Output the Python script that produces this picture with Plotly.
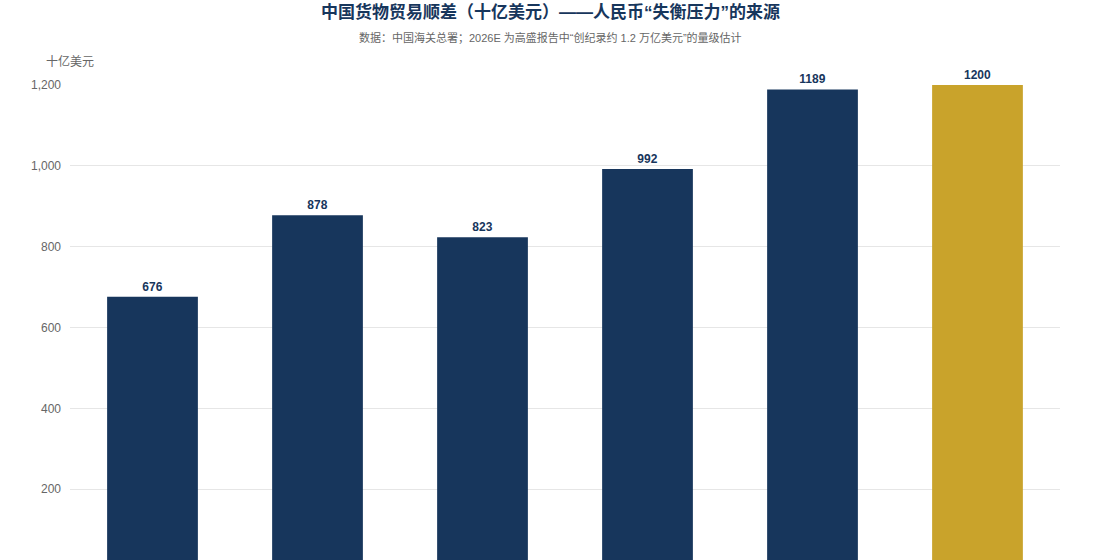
import plotly.graph_objects as go

# 中国货物贸易顺差, 十亿美元
years = ["2021", "2022", "2023", "2024", "2025", "2026E"]
surplus = [676, 878, 823, 992, 1189, 1200]
bar_colors = ["#17365c"] * 5 + ["#c9a32b"]

navy = "#17365c"
grey = "#666666"
font_family = "Liberation Sans, Arial, Noto Sans CJK SC, sans-serif"

fig = go.Figure()
fig.add_trace(go.Bar(
    x=years, y=surplus,
    marker=dict(color=bar_colors, line=dict(width=0)),
    text=[str(v) for v in surplus],
    textposition="outside",
    textfont=dict(size=12, color=navy, family=font_family, weight="bold"),
    cliponaxis=False,
    showlegend=False,
))

fig.update_layout(
    width=1100, height=630,
    margin=dict(l=70, r=40, t=85, b=60),
    plot_bgcolor="white", paper_bgcolor="white",
    font=dict(family=font_family, color=grey, size=12),
    bargap=0.45,
)
fig.update_xaxes(showgrid=False, showline=False, ticks="", tickfont=dict(color=grey))
fig.update_yaxes(
    range=[0, 1200], dtick=200, tickformat=",",
    showgrid=True, gridcolor="#e6e6e6", gridwidth=1,
    zeroline=False, showline=False, ticks="", ticklabelstandoff=8,
    tickfont=dict(size=12, color=grey),
)

# title, subtitle and axis name above the plot area
# (title centred on the whole page, not the plot area -> x a bit left of 0.5)
fig.add_annotation(
    text="<b>中国货物贸易顺差（十亿美元）——人民币“失衡压力”的来源</b>",
    xref="paper", yref="paper", x=0.485, y=1, xanchor="center", yanchor="middle",
    yshift=73, showarrow=False, font=dict(size=17, color=navy),
)
fig.add_annotation(
    text="数据：中国海关总署；2026E 为高盛报告中“创纪录约 1.2 万亿美元”的量级估计",
    xref="paper", yref="paper", x=0.485, y=1, xanchor="center", yanchor="middle",
    yshift=48, showarrow=False, font=dict(size=11, color=grey),
)
fig.add_annotation(
    text="十亿美元", xref="paper", yref="paper", x=0, y=1,
    xanchor="center", yanchor="bottom", yshift=14, showarrow=False,
    font=dict(size=12, color=grey),
)

# page body has an 8px margin by default; drop it so the figure sits at 0,0
fig.write_html("out.html", config={"displayModeBar": False},
               post_script="document.body.style.margin='0';")
